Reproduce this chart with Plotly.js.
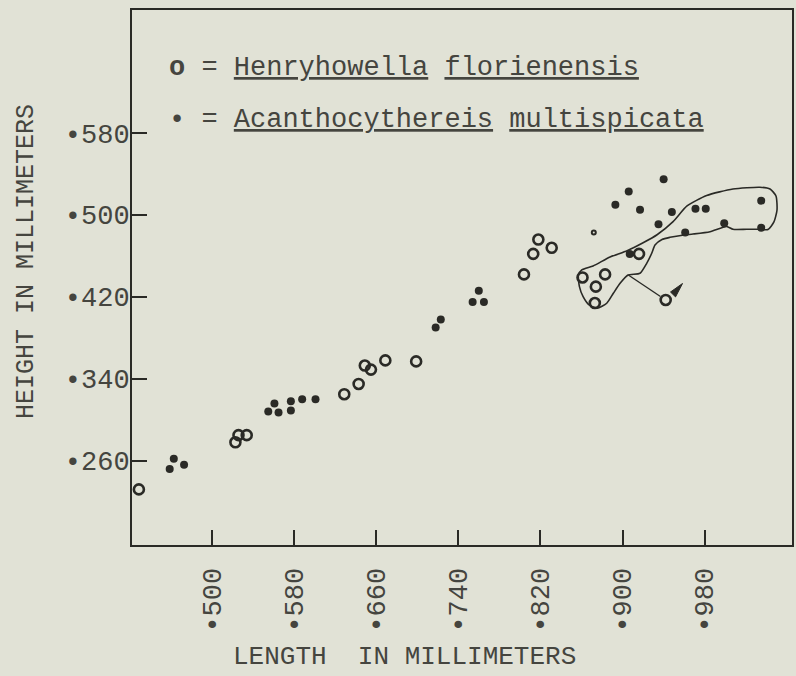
<!DOCTYPE html>
<html><head><meta charset="utf-8">
<script src="https://cdn.plot.ly/plotly-3.0.1.min.js"></script>
<style>html,body{margin:0;padding:0;background:#e1e2d6}</style>
</head><body><div id="chart" style="width:796px;height:676px"></div>
<script>
// Henryhowella florienensis (open circles): length, height in mm
const henryLength = [0.429, 0.523, 0.526, 0.534, 0.629, 0.643, 0.649, 0.655, 0.669, 0.699, 0.804, 0.813, 0.818, 0.831, 0.861, 0.874, 0.873, 0.883, 0.916, 0.942];
const henryHeight = [0.232, 0.278, 0.285, 0.285, 0.325, 0.335, 0.353, 0.349, 0.358, 0.357, 0.442, 0.462, 0.476, 0.468, 0.439, 0.430, 0.414, 0.442, 0.462, 0.417];
// Acanthocythereis multispicata (filled dots)
const acanthoLength = [0.459, 0.463, 0.473, 0.555, 0.561, 0.565, 0.577, 0.577, 0.588, 0.601, 0.718, 0.723, 0.754, 0.760, 0.765, 0.893, 0.906, 0.917, 0.940, 0.935, 0.948, 0.971, 0.981, 0.961, 0.999, 0.907, 1.035, 1.035];
const acanthoHeight = [0.252, 0.262, 0.256, 0.308, 0.316, 0.307, 0.318, 0.309, 0.320, 0.320, 0.390, 0.398, 0.415, 0.426, 0.415, 0.510, 0.523, 0.505, 0.535, 0.491, 0.503, 0.506, 0.506, 0.483, 0.492, 0.462, 0.514, 0.4875];
const acanthoSmallLength = [0.872];
const acanthoSmallHeight = [0.483];
// hand-drawn outline around a group of specimens
const outlineLength = [0.8603, 0.8713, 0.8878, 0.9044, 0.9200, 0.9336, 0.9492, 0.9628, 0.9819, 1.0075, 1.0338, 1.0436, 1.0494, 1.0504, 1.0474, 1.0416, 1.0338, 1.0209, 1.0075, 1.0014, 0.9852, 0.9686, 0.9598, 0.9462, 0.9384, 0.9316, 0.9284, 0.9235, 0.9170, 0.9053, 0.8976, 0.8910, 0.8846, 0.8752, 0.8674, 0.8616, 0.8580, 0.8570, 0.8603];
const outlineHeight = [0.4463, 0.4502, 0.4590, 0.4651, 0.4729, 0.4807, 0.4935, 0.5088, 0.5190, 0.5254, 0.5271, 0.5254, 0.5186, 0.5049, 0.4932, 0.4858, 0.4860, 0.4860, 0.4860, 0.4888, 0.4837, 0.4814, 0.4805, 0.4782, 0.4761, 0.4707, 0.4626, 0.4528, 0.4431, 0.4414, 0.4333, 0.4235, 0.4138, 0.4089, 0.4121, 0.4202, 0.4300, 0.4414, 0.4463];
const pointerLength = [0.9056, 0.9369];
const pointerHeight = [0.4414, 0.4204];
const arrowLength = [0.9584, 0.9467, 0.9516, 0.9584];
const arrowHeight = [0.4331, 0.4248, 0.4200, 0.4331];
const xTickVals = [0.50, 0.58, 0.66, 0.74, 0.82, 0.90, 0.98];
const xTickText = ['•500', '•580', '•660', '•740', '•820', '•900', '•980'];
const yTickVals = [0.26, 0.34, 0.42, 0.50, 0.58];
const yTickText = ['•260', '•340', '•420', '•500', '•580'];

const INK = '#2a2a26';
const TEXT = '#45453f';
const BG = '#e1e2d6';
const FONT = 'Liberation Mono, Courier New, monospace';

const W = 796, H = 676, ML = 132, MR = 4, MT = 10, MB = 131;
const PW = W - ML - MR, PH = H - MT - MB;
const px = x => (x - ML) / PW;
const py = y => (H - MB - y) / PH;

const traces = [
  {x: outlineLength, y: outlineHeight, mode: 'lines', line: {color: INK, width: 1.6, shape: 'spline', smoothing: 0.6}, hoverinfo: 'skip', showlegend: false},
  {x: pointerLength, y: pointerHeight, mode: 'lines', line: {color: INK, width: 1.4}, hoverinfo: 'skip', showlegend: false},
  {x: arrowLength, y: arrowHeight, mode: 'lines', fill: 'toself', fillcolor: INK, line: {color: INK, width: 1}, hoverinfo: 'skip', showlegend: false},
  {name: 'Acanthocythereis multispicata', x: acanthoLength, y: acanthoHeight, mode: 'markers', cliponaxis: false,
   marker: {symbol: 'circle', size: 8, color: INK, line: {width: 0}}},
  {name: 'Acanthocythereis multispicata (small)', x: acanthoSmallLength, y: acanthoSmallHeight, mode: 'markers', showlegend: false,
   marker: {symbol: 'circle-open', size: 4, color: INK, line: {width: 2, color: INK}}},
  {name: 'Henryhowella florienensis', x: henryLength, y: henryHeight, mode: 'markers', cliponaxis: false,
   marker: {symbol: 'circle-open', size: 10, color: INK, line: {width: 2.6, color: INK}}}
];

const axisCommon = {
  showline: true, mirror: true, linecolor: INK, linewidth: 2,
  ticks: 'inside', ticklen: 15, tickwidth: 2, tickcolor: INK,
  showgrid: false, zeroline: false, fixedrange: true,
  tickfont: {family: FONT, size: 27, color: TEXT}
};

const layout = {
  width: W, height: H,
  margin: {l: ML, r: MR, t: MT, b: MB, pad: 0},
  paper_bgcolor: BG, plot_bgcolor: BG,
  showlegend: false,
  xaxis: Object.assign({}, axisCommon, {
    range: [0.4223, 1.0650], tickmode: 'array', tickvals: xTickVals, ticktext: xTickText,
    tickangle: -90, ticklabelstandoff: 10
  }),
  yaxis: Object.assign({}, axisCommon, {
    range: [0.1777, 0.7002], tickmode: 'array', tickvals: yTickVals, ticktext: yTickText,
    ticklabelstandoff: -5
  }),
  annotations: [
    {xref: 'paper', yref: 'paper', x: px(167), y: py(68), xanchor: 'left', yanchor: 'middle', showarrow: false,
     text: '<b>o</b> = <u>Henryhowella</u> <u>florienensis</u>', font: {family: FONT, size: 27, color: TEXT}},
    {xref: 'paper', yref: 'paper', x: px(167), y: py(120), xanchor: 'left', yanchor: 'middle', showarrow: false,
     text: '• = <u>Acanthocythereis</u> <u>multispicata</u>', font: {family: FONT, size: 27, color: TEXT}},
    {xref: 'paper', yref: 'paper', x: px(404), y: py(657), xanchor: 'center', yanchor: 'middle', showarrow: false,
     text: 'LENGTH\u00a0 IN MILLIMETERS', font: {family: FONT, size: 26, color: TEXT}},
    {xref: 'paper', yref: 'paper', x: px(26), y: py(262), xanchor: 'center', yanchor: 'middle', showarrow: false, textangle: -90,
     text: 'HEIGHT IN MILLIMETERS', font: {family: FONT, size: 25, color: TEXT}}
  ]
};

Plotly.newPlot('chart', traces, layout, {displayModeBar: false, staticPlot: true});
</script></body></html>
